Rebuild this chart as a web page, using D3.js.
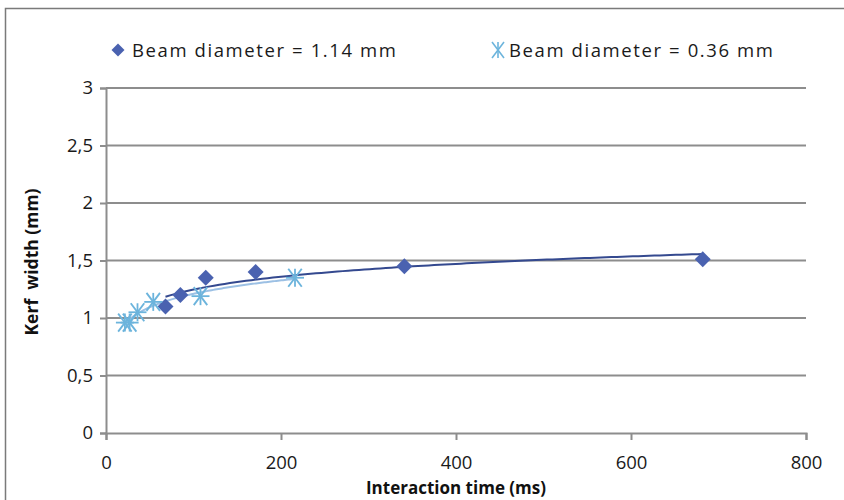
<!DOCTYPE html>
<html><head><meta charset="utf-8">
<script src="https://cdn.jsdelivr.net/npm/d3@7"></script>
<style>body{margin:0;background:#fff}svg{display:block}</style>
</head><body>
<svg id="c" width="844" height="500"></svg>
<script>
const series1Name = "Beam diameter = 1.14 mm";
const series1X = [68, 85, 114, 171, 341, 682];
const series1Y = [1.10, 1.20, 1.35, 1.40, 1.45, 1.51];
const series2Name = "Beam diameter = 0.36 mm";
const series2X = [21.6, 27, 36, 54, 108, 216];
const series2Y = [0.96, 0.96, 1.05, 1.14, 1.19, 1.35];
const xTicks = [0, 200, 400, 600, 800];
const yTicks = [0, 0.5, 1, 1.5, 2, 2.5, 3];
const yTickLabels = ["0", "0,5", "1", "1,5", "2", "2,5", "3"];

const svg = d3.select("#c");
const x = d3.scaleLinear().domain([0, 800]).range([106, 806]);
const y = d3.scaleLinear().domain([0, 3]).range([433, 88]);
const c1 = "#4a62b0", c1line = "#34498f";
const c2 = "#6cb4dc", c2line = "#9cc0e4";
const grid = "#8d8d8d";
const font = "'Open Sans', sans-serif";

// frame
svg.append("path").attr("d","M5.5,500 V8.5 H844").attr("fill","none").attr("stroke","#7a7a7a").attr("stroke-width",1.5);

// gridlines
svg.append("g").selectAll("line").data(yTicks.slice(1)).join("line")
  .attr("x1", x(0)).attr("x2", x(800)).attr("y1", d=>y(d)).attr("y2", d=>y(d))
  .attr("stroke", grid).attr("stroke-width", 2);

// axes
const yAxis = d3.axisLeft(y).tickValues(yTicks).tickSize(6).tickPadding(7)
  .tickFormat((d,i)=>yTickLabels[i]);
const gy = svg.append("g").attr("transform",`translate(${x(0)},0)`).call(yAxis);
const xAxis = d3.axisBottom(x).tickValues(xTicks).tickSize(7).tickPadding(16).tickFormat(d3.format("d"));
const gx = svg.append("g").attr("transform",`translate(0,${y(0)})`).call(xAxis);
[gx, gy].forEach(g=>{
  g.select(".domain").attr("stroke", grid).attr("stroke-width", 2);
  g.selectAll(".tick line").attr("stroke", grid).attr("stroke-width", 2);
  g.selectAll(".tick text").attr("fill","#1a1a1a").style("font-family",font).style("font-size","18.5px");
});

// log trendlines (least squares on ln x)
function logFit(xs, ys){
  const lx = xs.map(Math.log), mx = d3.mean(lx), my = d3.mean(ys);
  const a = d3.sum(lx.map((v,i)=>(v-mx)*(ys[i]-my))) / d3.sum(lx.map(v=>(v-mx)**2));
  return t => a*Math.log(t) + (my - a*mx);
}
function trend(xs, ys, color){
  const f = logFit(xs, ys);
  const lo = d3.min(xs), hi = d3.max(xs);
  const pts = d3.range(0, 101).map(i => { const t = lo + (hi-lo)*i/100; return [x(t), y(f(t))]; });
  svg.append("path").attr("d", d3.line()(pts)).attr("fill","none").attr("stroke",color).attr("stroke-width",2);
}
trend(series2X, series2Y, c2line);
trend(series1X, series1Y, c1line);

// markers
const dia = r => `M0,${-r}L${r},0L0,${r}L${-r},0Z`;
svg.append("g").selectAll("path").data(series1X).join("path")
  .attr("d", dia(8)).attr("transform",(d,i)=>`translate(${x(d)},${y(series1Y[i])})`)
  .attr("fill", c1);
function star(g, r){
  g.append("line").attr("x1",-r).attr("x2",r).attr("y1",0).attr("y2",0);
  g.append("line").attr("x1",-r*0.75).attr("x2",r*0.75).attr("y1",-r).attr("y2",r);
  g.append("line").attr("x1",r*0.75).attr("x2",-r*0.75).attr("y1",-r).attr("y2",r);
  g.append("line").attr("x1",0).attr("x2",0).attr("y1",-r).attr("y2",r);
}
svg.append("g").selectAll("g").data(series2X).join("g")
  .attr("transform",(d,i)=>`translate(${x(d)},${y(series2Y[i])})`)
  .attr("stroke", c2).attr("stroke-width", 1.8)
  .each(function(){ star(d3.select(this), 9); });

// legend
const lg = svg.append("g");
lg.append("path").attr("d", dia(6.5)).attr("transform","translate(118,50)").attr("fill",c1);
lg.append("text").attr("x",132).attr("y",57).text(series1Name);
const sg = lg.append("g").attr("transform","translate(498,50)").attr("stroke",c2).attr("stroke-width",1.6);
sg.append("line").attr("x1",-6).attr("x2",6).attr("y1",-8).attr("y2",8);
sg.append("line").attr("x1",6).attr("x2",-6).attr("y1",-8).attr("y2",8);
sg.append("line").attr("x1",0).attr("x2",0).attr("y1",-8).attr("y2",8);
lg.append("text").attr("x",509).attr("y",57).text(series2Name);
lg.selectAll("text").attr("fill","#1a1a1a").style("font-family",font).style("font-size","18.5px")
  .style("font-weight","500").style("letter-spacing","1.6px");

// axis titles
svg.append("text").attr("x", 456).attr("y", 494).attr("text-anchor","middle")
  .style("font-family",font).style("font-size","17px").style("font-weight","bold").attr("fill","#111")
  .text("Interaction time (ms)");
svg.append("text").attr("transform","translate(38,262) rotate(-90)").attr("text-anchor","middle")
  .style("font-family",font).style("font-size","17.5px").style("font-weight","bold").attr("fill","#111")
  .style("white-space","pre").text("Kerf  width (mm)");
</script>
</body></html>
